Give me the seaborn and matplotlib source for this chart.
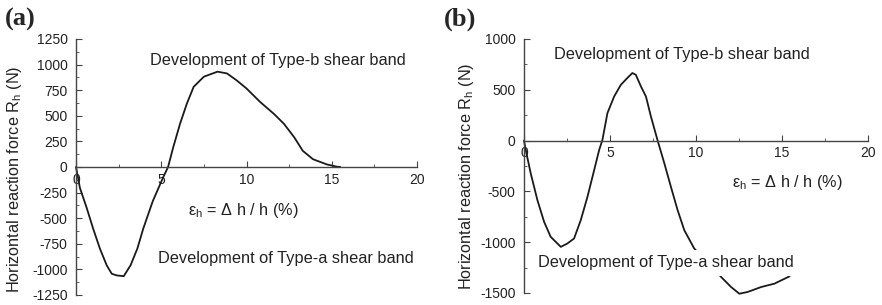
import matplotlib
matplotlib.use("Agg")
import matplotlib.pyplot as plt
import seaborn as sns
import pandas as pd
import numpy as np

# Panel (a) data: strain (%) vs horizontal reaction force (N)
strain_a = [0, 0.23, 0.63, 1.0, 1.4, 1.8, 2.1, 2.4, 2.8, 3.2, 3.6, 3.95, 4.5, 5.1, 5.4,
            5.7, 6.1, 6.5, 6.9, 7.5, 8.3, 8.85, 9.4, 10.0, 10.8, 11.6, 12.2, 12.8, 13.3,
            13.9, 14.7, 15.3, 15.5]
force_a = [0, -204, -401, -599, -796, -960, -1043, -1059, -1066, -960, -796, -599, -335, -105, 0,
           191, 421, 618, 783, 882, 931, 914, 849, 767, 635, 520, 421, 290, 158,
           76, 26, 3, 0]

# Panel (b) data
strain_b = [0, 0.1, 0.39, 0.78, 1.17, 1.55, 2.14, 2.52, 2.91, 3.3, 3.69, 4.08, 4.37, 4.56,
            4.85, 5.24, 5.63, 6.0, 6.3, 6.5, 6.8, 7.09, 7.38, 7.77, 8.16, 8.54, 8.93, 9.32,
            9.9, 10.4, 10.87, 11.46, 12.04, 12.52, 13.0, 13.79, 14.56, 15.44]
force_b = [0, -92, -322, -586, -800, -947, -1046, -1013, -964, -783, -553, -290, -92, 7,
           270, 434, 549, 615, 665, 648, 533, 434, 237, 0, -224, -454, -684, -882,
           -1063, -1150, -1227, -1342, -1441, -1507, -1490, -1441, -1408, -1336]

yticks_a = [1250, 1000, 750, 500, 250, 0, -250, -500, -750, -1000, -1250]
yticks_b = [1000, 500, 0, -500, -1000, -1500]
xticks = [0, 5, 10, 15, 20]

ylabel_text = 'Horizontal reaction force R$_\\mathregular{h}$ (N)'
xlabel_text = 'ε$_\\mathregular{h}$ = Δ h / h (%)'
note_b = 'Development of Type-b shear band'
note_a = 'Development of Type-a shear band'

sns.set_style("ticks")
plt.rcParams['font.family'] = ['Liberation Sans', 'DejaVu Sans']
plt.rcParams['mathtext.fontset'] = 'custom'
plt.rcParams['mathtext.rm'] = 'Liberation Sans'
plt.rcParams['mathtext.it'] = 'Liberation Sans'

W, H = 882, 305
fig = plt.figure(figsize=(W / 100, H / 100), dpi=100)
fig.patch.set_facecolor('white')
renderer = fig.canvas.get_renderer()


def fit_size(s, target_px, **kw):
    t = fig.text(0, 0, s, fontsize=10, **kw)
    w = t.get_window_extent(renderer).width
    t.remove()
    return 10 * target_px / w


def px_axes(l, t, r, b):
    return fig.add_axes([l / W, 1 - b / H, (r - l) / W, (b - t) / H])

ax_a = px_axes(76, 39, 417, 295)
ax_b = px_axes(524, 39, 868, 293)

line_kw = dict(color='#1a1a1a', linewidth=1.3, sort=False, estimator=None)
sns.lineplot(data=pd.DataFrame({'x': strain_a, 'y': force_a}), x='x', y='y', ax=ax_a, **line_kw)
sns.lineplot(data=pd.DataFrame({'x': strain_b, 'y': force_b}), x='x', y='y', ax=ax_b, **line_kw)

tick_fs = fit_size('1250', 31)

for ax, yt, ylim, minor in [(ax_a, yticks_a, (-1250, 1250), 125), (ax_b, yticks_b, (-1500, 1000), 250)]:
    ax.set_xlim(0, 20)
    ax.set_ylim(*ylim)
    ax.set_xticks(xticks)
    ax.set_xticklabels([str(v) for v in xticks])
    ax.set_yticks(yt)
    ax.set_yticklabels([str(v) for v in yt])
    ax.set_xticks([2.5, 7.5, 12.5, 17.5], minor=True)
    ax.set_yticks(np.arange(ylim[0], ylim[1] + 1, minor), minor=True)
    ax.spines['top'].set_visible(False)
    ax.spines['right'].set_visible(False)
    ax.spines['bottom'].set_position(('data', 0))
    for s in ('left', 'bottom'):
        ax.spines[s].set_color('#444444')
        ax.spines[s].set_linewidth(1.0)
    ax.tick_params(axis='both', which='both', direction='in', colors='#444444',
                   labelcolor='#222222', labelsize=tick_fs)
    ax.tick_params(axis='both', which='major', length=4)
    ax.tick_params(axis='both', which='minor', length=2)
    ax.tick_params(axis='x', pad=4)
    ax.tick_params(axis='y', pad=6)
    ax.set_xlabel('')
    ax.set_ylabel('')
    ax.patch.set_alpha(0)
    for line in ax.lines:
        line.set_clip_on(False)


def ftext(x, y, s, **kw):
    return fig.text(x / W, 1 - y / H, s, **kw)

col = '#222222'
ylab_fs = fit_size(ylabel_text, 228)
xlab_fs = fit_size(xlabel_text, 111)
note_fs = fit_size(note_b, 257)
tag_fs = fit_size('(a)', 31, fontweight='bold', family='Liberation Serif')

common = dict(color=col, ha='center', va='center')
# Panel (a)
ftext(20, 19, '(a)', fontsize=tag_fs, fontweight='bold', family='Liberation Serif', ha='center', va='center')
ftext(15, 179, ylabel_text, rotation=90, fontsize=ylab_fs, **common)
ftext(243, 210, xlabel_text, fontsize=xlab_fs, **common)
ftext(278, 61, note_b, fontsize=note_fs, **common)
ftext(286, 259, note_a, fontsize=note_fs, **common)

# Panel (b)
ftext(460, 19, '(b)', fontsize=tag_fs, fontweight='bold', family='Liberation Serif', ha='center', va='center')
ftext(466, 176, ylabel_text, rotation=90, fontsize=ylab_fs, **common)
ftext(787, 182, xlabel_text, fontsize=xlab_fs, **common)
ftext(682, 55, note_b, fontsize=note_fs, **common)
ftext(666, 263, note_a, fontsize=note_fs, zorder=10,
      bbox=dict(facecolor='white', edgecolor='none', pad=4), **common)

fig.savefig('out.png', dpi=100, facecolor='white')
